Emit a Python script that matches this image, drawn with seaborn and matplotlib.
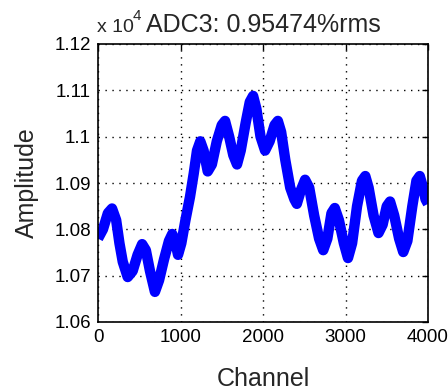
import matplotlib
matplotlib.use("Agg")
import matplotlib.pyplot as plt
import seaborn as sns
import pandas as pd

channel = [0, 60, 120, 170, 220, 260, 300, 360, 420, 480, 535, 580, 630, 690,
           740, 800, 860, 900, 940, 970, 1010, 1060, 1115, 1160, 1200, 1240,
           1280, 1330, 1380, 1440, 1500, 1540, 1590, 1640, 1685, 1730, 1790,
           1840, 1880, 1920, 1970, 2025, 2080, 2140, 2180, 2220, 2270, 2330,
           2380, 2410, 2460, 2510, 2560, 2620, 2680, 2730, 2780, 2830, 2870,
           2920, 2980, 3030, 3080, 3140, 3200, 3240, 3280, 3340, 3400, 3450,
           3500, 3540, 3590, 3650, 3700, 3750, 3810, 3860, 3900, 3940, 3970, 4000]
amplitude = [1.078, 1.080, 1.0835, 1.0845, 1.082, 1.077, 1.073, 1.0697, 1.071,
             1.0745, 1.0768, 1.0755, 1.071, 1.0665, 1.069, 1.0735, 1.0775,
             1.079, 1.077, 1.0745, 1.077, 1.082, 1.087, 1.092, 1.097, 1.099,
             1.097, 1.0925, 1.094, 1.099, 1.1025, 1.1034, 1.100, 1.096, 1.094,
             1.097, 1.103, 1.1075, 1.1088, 1.106, 1.100, 1.097, 1.099, 1.1025,
             1.1034, 1.101, 1.095, 1.089, 1.0865, 1.0855, 1.0885, 1.0907, 1.089,
             1.083, 1.078, 1.0755, 1.078, 1.0835, 1.0846, 1.082, 1.077, 1.0738,
             1.077, 1.085, 1.0905, 1.0915, 1.089, 1.083, 1.0792, 1.081, 1.085,
             1.086, 1.083, 1.078, 1.0751, 1.0775, 1.085, 1.0905, 1.0915, 1.089,
             1.0865, 1.0855]
x_ticks = [0, 1000, 2000, 3000, 4000]
y_ticks = [1.06, 1.07, 1.08, 1.09, 1.10, 1.11, 1.12]
y_tick_labels = ["1.06", "1.07", "1.08", "1.09", "1.1", "1.11", "1.12"]

sns.set_style("white")
plt.rcParams['font.family'] = ['Liberation Sans', 'DejaVu Sans']

df = pd.DataFrame({"Channel": channel, "Amplitude": amplitude})

fig = plt.figure(figsize=(4.48, 3.9), dpi=100)
ax = fig.add_axes([98/448, 1-322/390, 330/448, 278/390])
sns.lineplot(data=df, x="Channel", y="Amplitude", ax=ax, color="#0000ff",
             linewidth=7.5, solid_joinstyle="round", solid_capstyle="butt")

ax.set_xlim(0, 4000)
ax.set_ylim(1.06, 1.12)
ax.set_xticks(x_ticks)
ax.set_xticklabels([str(t) for t in x_ticks])
ax.set_yticks(y_ticks)
ax.set_yticklabels(y_tick_labels)
ax.grid(True, color="black", linestyle=(0, (1, 4)), linewidth=1)
ax.tick_params(direction="in", length=4, width=1, labelsize=13.5, colors="black",
               top=True, right=True, pad=5)
for s in ax.spines.values():
    s.set_visible(True)
    s.set_color("black")
    s.set_linewidth(1.2)
ax.set_xlabel("Channel", fontsize=18, labelpad=15)
ax.set_ylabel("Amplitude", fontsize=18, labelpad=11)
ax.set_title("ADC3: 0.95474%rms", fontsize=18, pad=9)
fig.text(97/448, 1-32/390, "x 10", fontsize=14, ha="left", va="baseline")
fig.text(133/448, 1-20/390, "4", fontsize=11, ha="left", va="baseline")

fig.savefig("out.png", dpi=100)
